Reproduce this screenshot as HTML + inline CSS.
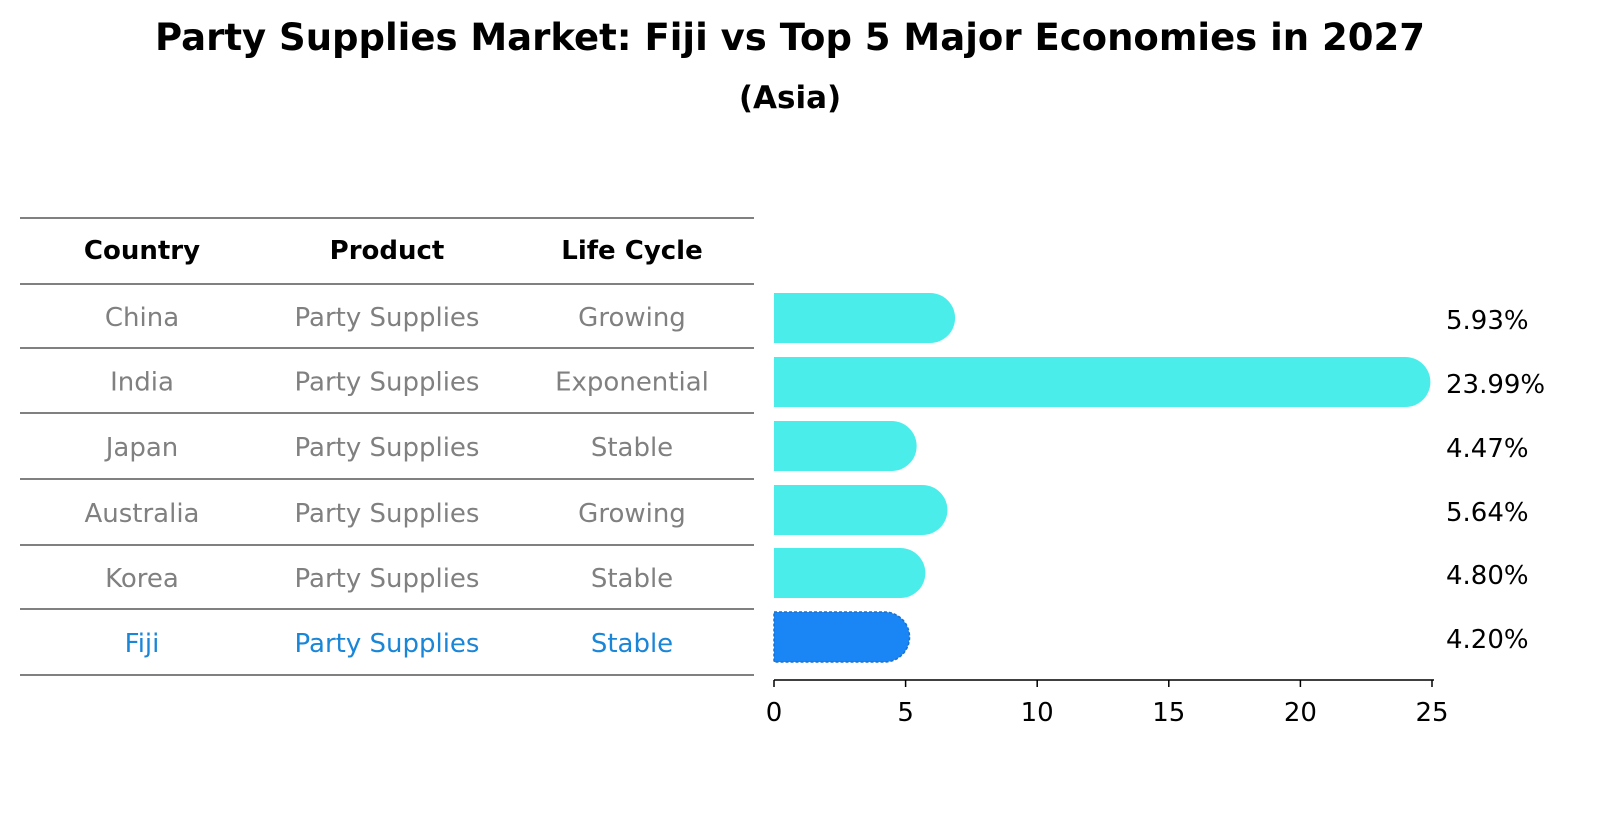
<!DOCTYPE html>
<html><head><meta charset="utf-8"><style>
body{margin:0;background:#fff;font-family:"Liberation Sans","DejaVu Sans",sans-serif;}
svg text{font-family:"DejaVu Sans","Liberation Sans",sans-serif;}
</style></head><body>
<svg id="c" width="1604" height="823" xmlns="http://www.w3.org/2000/svg">
<text x="790" y="50" text-anchor="middle" font-size="37" font-weight="bold">Party Supplies Market: Fiji vs Top 5 Major Economies in 2027</text>
<text x="790" y="108" text-anchor="middle" font-size="31" font-weight="bold">(Asia)</text>
<g id="tbl"></g>
<g id="bars"></g>
</svg>
<script>
const countries=["China","India","Japan","Australia","Korea","Fiji"];
const products=["Party Supplies","Party Supplies","Party Supplies","Party Supplies","Party Supplies","Party Supplies"];
const lifeCycles=["Growing","Exponential","Stable","Growing","Stable","Stable"];
const values=[5.93,23.99,4.47,5.64,4.80,4.20];
const ticks=[0,5,10,15,20,25];
const NS="http://www.w3.org/2000/svg";
function mk(t,a,p){const e=document.createElementNS(NS,t);for(const k in a)e.setAttribute(k,a[k]);p.appendChild(e);return e;}
const tbl=document.getElementById('tbl'),bars=document.getElementById('bars');
const lines=[218,284,348,413,479,545,609,675];
lines.forEach(y=>{const l=mk('line',{x1:20,x2:754,y1:y,y2:y,stroke:'#000','stroke-width':1},tbl);
});
const cx=[142,387,632];
["Country","Product","Life Cycle"].forEach((h,i)=>{const t=mk('text',{x:cx[i],y:259,'text-anchor':'middle','font-size':26,'font-weight':'bold'},tbl);t.textContent=h;
});
const rowY=(i)=>(lines[i+1]+lines[i+2])/2;
countries.forEach((c,i)=>{const col=c==="Fiji"?"#1a86d8":"#808080";
[c,products[i],lifeCycles[i]].forEach((v,j)=>{const t=mk('text',{x:cx[j],y:rowY(i)+10,'text-anchor':'middle','font-size':26,fill:col},tbl);t.textContent=v;
});});
const x0=774,x1=1432,vmax=25;
const xs=v=>x0+v/vmax*(x1-x0);
const barC=[318,382,446,510,573,637];
const r=25;
values.forEach((v,i)=>{const yc=barC[i];const xe=xs(v);const fiji=countries[i]==="Fiji";
const d=`M${x0},${yc-r} L${xe},${yc-r} A${r},${r} 0 0 1 ${xe},${yc+r} L${x0},${yc+r} Z`;
const p=mk('path',{d:d,fill:fiji?'#1a86f5':'#4bedea',stroke:fiji?'#1a70d0':'none','stroke-width':fiji?1.5:0,'stroke-dasharray':fiji?'3,2':''},bars);

const t=mk('text',{x:1446,y:yc+11,'font-size':26},bars);t.textContent=v.toFixed(2)+'%';
});
const ax=mk('line',{x1:x0,x2:x1+2,y1:680,y2:680,stroke:'#000','stroke-width':1.5},bars);

ticks.forEach(tv=>{const x=xs(tv);const l=mk('line',{x1:x,x2:x,y1:680,y2:687,stroke:'#000','stroke-width':1.5},bars);

const t=mk('text',{x:x,y:721,'text-anchor':'middle','font-size':26},bars);t.textContent=tv;
});
</script>
</body></html>
